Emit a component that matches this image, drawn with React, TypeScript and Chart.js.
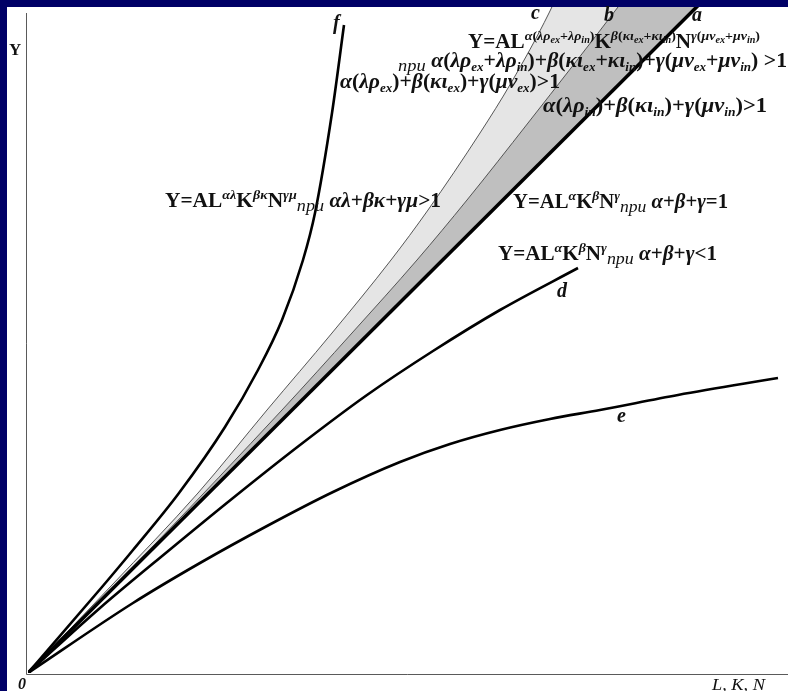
import React, { useEffect, useRef } from 'react';
import { Chart, registerables } from 'chart.js';

Chart.register(...registerables);

// Curve a: constant returns to scale (straight line)
const aX = [0, 760];
const aY = [0, 757];
// Curve b: border between dark and light band
const bX = [0, 128, 254, 324, 389, 439, 500, 590, 711];
const bY = [0, 130, 263, 340, 413, 473, 550, 666, 828];
// Curve c: left border of light band
const cX = [0, 84, 170, 239, 304, 363, 400, 452, 483, 521, 600];
const cY = [0, 88, 180, 263, 340, 413, 463, 540, 590, 660, 834];
// Curve f: strongly increasing returns
const fX = [0, 74, 105, 151, 197, 230, 254, 275, 287, 304, 316];
const fY = [0, 86, 123, 180, 246, 303, 353, 413, 460, 560, 648];
// Curve d: decreasing returns
const dX = [0, 72, 139, 205, 272, 339, 405, 472, 550];
const dY = [0, 65, 121, 175, 228, 278, 322, 363, 405];
// Curve e: strongly decreasing returns
const eX = [0, 105, 172, 239, 305, 372, 422, 472, 522, 572, 650, 750];
const eY = [0, 70, 110, 147, 181, 211, 229, 243, 254, 263, 278, 295];

const X_MAX = 760;
const Y_MAX = 666;

const NAVY = '#000066';
const FONT = '"Liberation Serif", "DejaVu Serif", serif';

type Lbl = { s: string; x: number; y: number; w?: number; size: number; style: string };

const labels: Lbl[] = [
  { s: 'f', x: 333, y: 29, size: 20, style: 'italic bold' },
  { s: 'c', x: 531, y: 19, size: 20, style: 'italic bold' },
  { s: 'b', x: 604, y: 21, size: 20, style: 'italic bold' },
  { s: 'a', x: 692, y: 21, size: 20, style: 'italic bold' },
  { s: 'd', x: 557, y: 297, size: 20, style: 'italic bold' },
  { s: 'e', x: 617, y: 422, size: 20, style: 'italic bold' },
  { s: 'Y', x: 9, y: 55, size: 17, style: 'bold' },
  { s: '0', x: 18, y: 689, size: 16, style: 'italic bold' },
  { s: 'L, K, N', x: 712, y: 690, w: 53, size: 16, style: 'italic' },
  { s: 'Y=AL^{α(λρ_{ex}+λρ_{in})}K^{β(κι_{ex}+κι_{in})}N^{γ(μν_{ex}+μν_{in})}', x: 468, y: 48, w: 292, size: 20, style: 'bold' },
  { s: '~{при} α(λρ_{ex}+λρ_{in})+β(κι_{ex}+κι_{in})+γ(μν_{ex}+μν_{in}) >1', x: 398, y: 67, w: 389, size: 20, style: 'bold' },
  { s: 'α(λρ_{ex})+β(κι_{ex})+γ(μν_{ex})>1', x: 340, y: 88, w: 220, size: 20, style: 'bold' },
  { s: 'α(λρ_{in})+β(κι_{in})+γ(μν_{in})>1', x: 543, y: 112, w: 224, size: 20, style: 'bold' },
  { s: 'Y=AL^{αλ}K^{βκ}N^{γμ}~{при} αλ+βκ+γμ>1', x: 165, y: 207, w: 276, size: 20, style: 'bold' },
  { s: 'Y=AL^{α}K^{β}N^{γ}~{при} α+β+γ=1', x: 513, y: 208, w: 215, size: 20, style: 'bold' },
  { s: 'Y=AL^{α}K^{β}N^{γ}~{при} α+β+γ<1', x: 498, y: 260, w: 219, size: 20, style: 'bold' },
];

type Run = { t: string; l: string; it: boolean };
const LV: Record<string, [number, number]> = {
  n: [1, 0],
  sup: [0.66, -0.42],
  sub: [0.6, 0.22],
  supsub: [0.48, -0.24],
  pri: [0.85, 0.2],
};

const isItalicChar = (c: string) => /[\u0370-\u03ffa-z]/.test(c);

function pushText(out: Run[], text: string, lvl: string) {
  if (!text) return;
  if (lvl === 'pri') { out.push({ t: text, l: lvl, it: true }); return; }
  let cur = '';
  let curIt = isItalicChar(text[0]);
  for (const ch of text) {
    const it = ch === ' ' ? curIt : isItalicChar(ch);
    if (it !== curIt && cur) { out.push({ t: cur, l: lvl, it: curIt }); cur = ''; }
    curIt = it;
    cur += ch;
  }
  if (cur) out.push({ t: cur, l: lvl, it: curIt });
}

function parse(s: string, lvl: string, out: Run[]) {
  let i = 0;
  let buf = '';
  const flush = () => { pushText(out, buf, lvl); buf = ''; };
  while (i < s.length) {
    const ch = s[i];
    if ((ch === '^' || ch === '_' || ch === '~') && s[i + 1] === '{') {
      flush();
      let depth = 0;
      let j = i + 1;
      for (; j < s.length; j++) {
        if (s[j] === '{') depth++;
        else if (s[j] === '}') { depth--; if (depth === 0) break; }
      }
      const inner = s.slice(i + 2, j);
      const nl = ch === '~' ? 'pri' : ch === '^' ? 'sup' : (lvl === 'sup' ? 'supsub' : 'sub');
      parse(inner, nl, out);
      i = j + 1;
    } else {
      buf += ch;
      i++;
    }
  }
  flush();
}

function drawLabel(ctx: CanvasRenderingContext2D, L: Lbl) {
  const runs: Run[] = [];
  parse(L.s, 'n', runs);
  const bold = L.style.indexOf('bold') >= 0;
  const fontOf = (r: Run) => {
    const k = LV[r.l][0];
    let st = L.style;
    if (r.l === 'pri') st = 'italic';
    else if (r.it) st = bold ? 'italic bold' : 'italic';
    return `${st} ${(L.size * k).toFixed(1)}px ${FONT}`;
  };
  let total = 0;
  const ws = runs.map((r) => {
    ctx.font = fontOf(r);
    const w = ctx.measureText(r.t).width;
    total += w;
    return w;
  });
  const sx = L.w ? L.w / total : 1;
  ctx.save();
  ctx.translate(L.x, L.y);
  ctx.scale(sx, 1);
  ctx.fillStyle = '#111';
  ctx.textBaseline = 'alphabetic';
  ctx.textAlign = 'left';
  let cx = 0;
  runs.forEach((r, i) => {
    ctx.font = fontOf(r);
    ctx.fillText(r.t, cx, LV[r.l][1] * L.size);
    cx += ws[i];
  });
  ctx.restore();
}

const toPts = (xs: number[], ys: number[]) => xs.map((x, i) => ({ x, y: ys[i] }));

const framePlugin = {
  id: 'frame',
  beforeDraw(chart: any) {
    const ctx = chart.ctx as CanvasRenderingContext2D;
    ctx.save();
    ctx.fillStyle = NAVY;
    ctx.fillRect(0, 0, chart.width, chart.height);
    ctx.fillStyle = '#ffffff';
    ctx.fillRect(7, 7, chart.width - 7, chart.height - 7);
    ctx.restore();
  },
  beforeDatasetsDraw(chart: any) {
    const ctx = chart.ctx as CanvasRenderingContext2D;
    const x0 = chart.scales.x.getPixelForValue(0);
    const y0 = chart.scales.y.getPixelForValue(0);
    ctx.save();
    ctx.strokeStyle = '#5a5a5a';
    ctx.lineWidth = 1;
    ctx.beginPath();
    ctx.moveTo(x0 - 1.5, 13);
    ctx.lineTo(x0 - 1.5, y0 + 1.5);
    ctx.lineTo(chart.width, y0 + 1.5);
    ctx.stroke();
    ctx.restore();
  },
  afterDraw(chart: any) {
    const ctx = chart.ctx as CanvasRenderingContext2D;
    labels.forEach((L) => drawLabel(ctx, L));
  },
};

export default function App() {
  const ref = useRef<HTMLCanvasElement | null>(null);
  useEffect(() => {
    if (!ref.current) return;
    const common = {
      pointRadius: 0,
      pointHoverRadius: 0,
      cubicInterpolationMode: 'monotone' as const,
      clip: 0,
    };
    const chart = new Chart(ref.current, {
      type: 'line',
      data: {
        datasets: [
          { ...common, label: 'a', data: toPts(aX, aY), borderColor: '#000', borderWidth: 3.5, fill: false },
          { ...common, label: 'b', data: toPts(bX, bY), borderColor: '#444', borderWidth: 0.9, fill: '-1', backgroundColor: '#bfbfbf' },
          { ...common, label: 'c', data: toPts(cX, cY), borderColor: '#444', borderWidth: 0.9, fill: '-1', backgroundColor: '#e5e5e5' },
          { ...common, label: 'f', data: toPts(fX, fY), borderColor: '#000', borderWidth: 2.6, fill: false },
          { ...common, label: 'd', data: toPts(dX, dY), borderColor: '#000', borderWidth: 2.6, fill: false },
          { ...common, label: 'e', data: toPts(eX, eY), borderColor: '#000', borderWidth: 2.6, fill: false },
        ] as any,
      },
      options: {
        animation: false,
        responsive: false,
        events: [],
        layout: { padding: { left: 28, top: 7, right: 0, bottom: 18 } },
        scales: {
          x: { type: 'linear', min: 0, max: X_MAX, display: false },
          y: { type: 'linear', min: 0, max: Y_MAX, display: false },
        },
        plugins: {
          legend: { display: false },
          tooltip: { enabled: false },
          filler: { drawTime: 'beforeDatasetsDraw' } as any,
        },
      },
      plugins: [framePlugin],
    });
    return () => chart.destroy();
  }, []);
  return (
    <div style={{ position: 'fixed', left: 0, top: 0, width: 788, height: 691 }}>
      <canvas ref={ref} width={788} height={691} style={{ display: 'block', width: 788, height: 691 }} />
    </div>
  );
}
